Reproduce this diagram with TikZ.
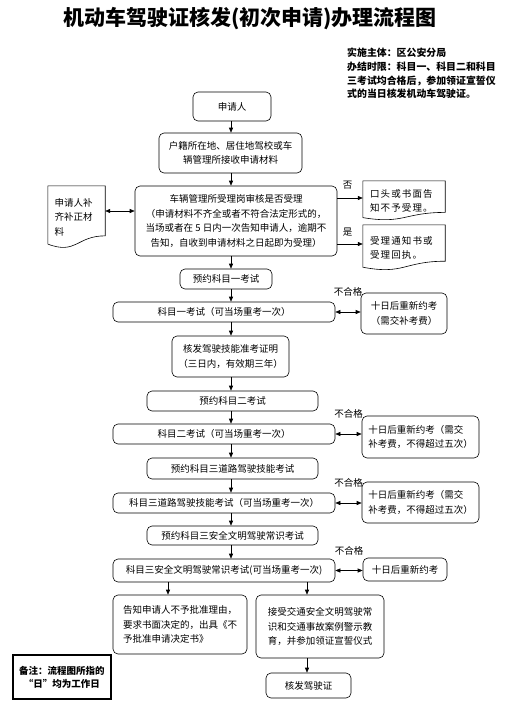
\documentclass[tikz,border=0pt]{standalone}
\usepackage{fontspec}
\setmainfont{Noto Sans CJK SC}
\newfontfamily\spacedfont[LetterSpace=12]{Noto Sans CJK SC}
\usetikzlibrary{arrows.meta,calc}
\tikzset{
  box/.style={draw=black, line width=0.6pt, rounded corners=5pt, align=center, inner sep=2pt,
    font=\fontsize{9.5}{14.5}\selectfont},
  docbox/.style={align=left, inner sep=0pt, font=\fontsize{9.5}{14.5}\selectfont},
  arr/.style={-{Triangle[length=5pt,width=4pt]}, line width=0.6pt},
  darr/.style={{Triangle[length=5pt,width=4pt]}-{Triangle[length=5pt,width=4pt]}, line width=0.6pt},
  lab/.style={font=\fontsize{9.5}{11}\selectfont, inner sep=0pt},
  titlestyle/.style={font=\fontsize{21}{24}\selectfont\bfseries, inner sep=0pt},
  infostyle/.style={font=\fontsize{9.9}{13.7}\selectfont\bfseries, align=left, inner sep=0pt},
  notestyle/.style={draw=black, line width=1.1pt, align=center, font=\fontsize{9.5}{13}\selectfont\bfseries, inner sep=2pt},
}
\newcommand\docoutline[1]{\draw[line width=0.6pt] (#1.north west) -- (#1.north east) --
  ($(#1.north east)!0.802!(#1.south east)$) .. controls ($(#1.north)!0.802!(#1.south)$) and ($(#1.north)!1.1075!(#1.south)$) ..
  ($(#1.north west)!0.934!(#1.south west)$) -- cycle;}
\begin{document}
\begin{tikzpicture}[x=1pt,y=-1pt]
\useasboundingbox (0,0) rectangle (506,710);
\coordinate (spine) at (231,0);
\node[titlestyle] (title) at (250,19) {机动车驾驶证核发(初次申请)办理流程图};
\node[infostyle, anchor=north west] (info) at (347,48) {实施主体：区公安分局\\办结时限：科目一、科目二和科目\\三考试均合格后，参加领证宣誓仪\\式的当日核发机动车驾驶证。};

\node[box, minimum width=78, minimum height=29] (app) at (232,106.5) {申请人};
\node[box, minimum width=143, minimum height=40] (recv) at (230.5,153) {户籍所在地、居住地驾校或车\\辆管理所接收申请材料};
\node[box, minimum width=202, minimum height=70] (check) at (236,221) {车辆管理所受理岗审核是否受理\\（申请材料不齐全或者不符合法定形式的，\\当场或者在 5 日内一次告知申请人，逾期不\\告知，自收到申请材料之日起即为受理）};
\node[docbox, minimum width=57, minimum height=62, text width=44] (ldoc) at (76.5,217) {申请人补\\齐补正材\\料};
\node[docbox, font=\spacedfont\fontsize{9.5}{14}\selectfont, minimum width=82, minimum height=39, text width=68] (rdoc1) at (404,200.5) {口头或书面告\\知不予受理。};
\node[docbox, font=\spacedfont\fontsize{9.5}{14}\selectfont, minimum width=82, minimum height=45, text width=68] (rdoc2) at (404,247.5) {受理通知书或\\受理回执。};
\docoutline{ldoc}
\docoutline{rdoc1}
\docoutline{rdoc2}

\node[box, minimum width=92, minimum height=20] (yy1) at (226,279) {预约科目一考试};
\node[box, minimum width=222, minimum height=20] (k1) at (224,312) {科目一考试（可当场重考一次）};
\node[box, minimum width=86, minimum height=41] (r1) at (404,313.5) {十日后重新约考\\（需交补考费）};
\node[box, minimum width=117, minimum height=41] (zk) at (230.5,356.5) {核发驾驶技能准考证明\\（三日内，有效期三年）};
\node[box, minimum width=171, minimum height=20] (yy2) at (232.5,401) {预约科目二考试};
\node[box, minimum width=222, minimum height=20] (k2) at (224,434) {科目二考试（可当场重考一次）};
\node[box, align=left, minimum width=117, minimum height=42] (r2) at (420.5,437) {十日后重新约考（需交\\补考费，不得超过五次）};
\node[box, minimum width=171, minimum height=21] (yy3) at (232.5,468.5) {预约科目三道路驾驶技能考试};
\node[box, minimum width=222, minimum height=20] (k3) at (224,503) {科目三道路驾驶技能考试（可当场重考一次）};
\node[box, align=left, minimum width=117, minimum height=41] (r3) at (420.5,502.5) {十日后重新约考（需交\\补考费，不得超过五次）};
\node[box, minimum width=171, minimum height=19] (yy4) at (232.5,535.5) {预约科目三安全文明驾驶常识考试};
\node[box, minimum width=222, minimum height=23] (k4) at (224,570.5) {科目三安全文明驾驶常识考试(可当场重考一次)};
\node[box, minimum width=84, minimum height=23] (r4) at (405,569.5) {十日后重新约考};
\node[box, align=left, minimum width=134, minimum height=59] (bl) at (180,624.5) {告知申请人不予批准理由，\\要求书面决定的，出具《不\\予批准申请决定书》};
\node[box, align=left, minimum width=128, minimum height=63] (br) at (320,626.5) {接受交通安全文明驾驶常\\识和交通事故案例警示教\\育，并参加领证宣誓仪式};
\node[box, minimum width=85, minimum height=25] (fin) at (308.5,685.5) {核发驾驶证};
\node[notestyle, minimum width=98, minimum height=44] (note) at (62,677) {备注：流程图所指的\\“日”均为工作日};

\foreach \a/\b in {app/recv, recv/check, check/yy1, yy1/k1, k1/zk, zk/yy2, yy2/k2, k2/yy3, yy3/k3, k3/yy4, yy4/k4}
  \draw[arr] (spine |- \a.south) -- (spine |- \b.north);

\coordinate (lq) at ([yshift=6pt]ldoc.east);
\draw[darr] (lq) -- (lq -| check.west);
\coordinate (q1) at ([yshift=2.5pt]rdoc1.west);
\coordinate (q2) at ([yshift=3.5pt]rdoc2.west);
\draw[arr] (q1 -| check.east) -- node[lab, above=8pt, pos=0.4]{否} (q1);
\draw[arr] (q2 -| check.east) -- node[lab, above=7pt, pos=0.4]{是} (q2);

\draw[darr] (k1.east) -- node[lab, above=15pt]{不合格} (k1.east -| r1.west);
\draw[darr] (k2.east) -- node[lab, above=15pt]{不合格} (k2.east -| r2.west);
\draw[darr] (k3.east) -- node[lab, above=15pt]{不合格} (k3.east -| r3.west);
\draw[darr] (k4.east) -- node[lab, above=15pt]{不合格} (k4.east -| r4.west);

\coordinate (kl) at ([xshift=-56pt]k4.south);
\coordinate (kr) at ([xshift=83pt]k4.south);
\coordinate (bq) at ([xshift=-13pt]br.south);
\draw[arr] (kl) -- (kl |- bl.north);
\draw[arr] (kr) -- (kr |- br.north);
\draw[arr] (bq) -- (bq |- fin.north);
\end{tikzpicture}
\end{document}
